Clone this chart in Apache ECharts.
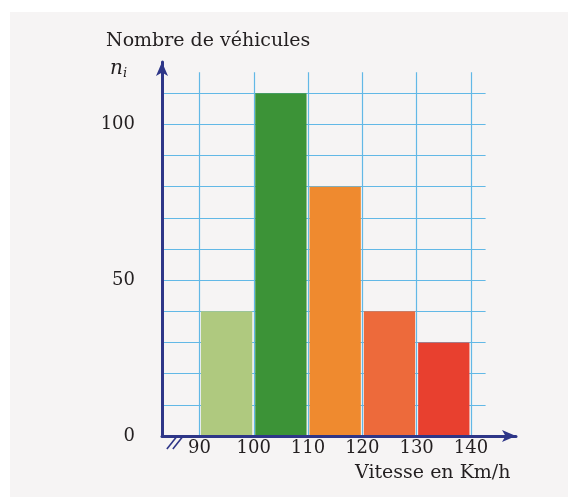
<!DOCTYPE html>
<html>
<head>
<meta charset="utf-8">
<script src="https://cdn.jsdelivr.net/npm/echarts@6/dist/echarts.min.js"></script>
<style>
html, body { margin: 0; padding: 0; background: #f6f4f4; }
#chart { width: 568px; height: 497px; }
</style>
</head>
<body>
<div id="chart"></div>
<script>
// classes de vitesse (km/h) et effectifs
var classStart = [90, 100, 110, 120, 130];
var classEnd = [100, 110, 120, 130, 140];
var counts = [40, 110, 80, 40, 30];
var barColors = ['#afc97f', '#3c9337', '#ef8a2f', '#ed6a3b', '#e8402f'];
var xTicks = [90, 100, 110, 120, 130, 140];
var yTicks = [0, 50, 100];
var yGrid = [10, 20, 30, 40, 50, 60, 70, 80, 90, 100, 110];

var serif = '"DejaVu Serif", "Liberation Serif", serif';
var ink = '#231f20';
var navy = '#2e3688';
var gridBlue = '#62b8e6';

var chart = echarts.init(document.getElementById('chart'));

var barData = [];
for (var i = 0; i < counts.length; i++) {
    barData.push({ value: [classStart[i], classEnd[i], counts[i]], itemStyle: { color: barColors[i] } });
}

// quadrillage
var gridLines = [];
for (var i = 0; i < xTicks.length; i++) {
    gridLines.push([{ coord: [xTicks[i], 0] }, { coord: [xTicks[i], 116.7] }]);
}
for (var i = 0; i < yGrid.length; i++) {
    gridLines.push([{ coord: [83.1, yGrid[i]] }, { coord: [142.7, yGrid[i]] }]);
}

var option = {
    backgroundColor: '#f6f4f4',
    animation: false,
    title: [
        {
            text: 'Nombre de véhicules',
            left: 101, top: 27,
            textStyle: { fontFamily: serif, fontSize: 19, fontWeight: 'normal', color: ink }
        },
        {
            text: '{n|n}{i|i}',
            left: 105, top: 52,
            textStyle: {
                fontWeight: 'normal',
                rich: {
                    n: { fontFamily: serif, fontStyle: 'italic', fontWeight: 'normal', fontSize: 20, color: ink },
                    i: { fontFamily: serif, fontStyle: 'italic', fontWeight: 'normal', fontSize: 13, color: ink, padding: [10, 0, 0, 0] }
                }
            }
        },
        {
            text: 'Vitesse en Km/h',
            left: 350, top: 459,
            textStyle: { fontFamily: serif, fontSize: 19, fontWeight: 'normal', color: ink }
        }
    ],
    grid: { left: 162, right: 52, top: 62, bottom: 61 },
    xAxis: {
        type: 'value',
        min: 83.1,
        max: 148.3,
        z: 10,
        axisLine: { show: true, symbol: ['none', 'arrow'], symbolSize: [9, 14], lineStyle: { color: navy, width: 3 } },
        axisTick: { show: false },
        splitLine: { show: false },
        axisLabel: {
            customValues: xTicks,
            margin: 3,
            fontFamily: serif, fontSize: 18, color: ink
        }
    },
    yAxis: {
        type: 'value',
        min: 0,
        max: 120,
        z: 10,
        axisLine: { show: true, symbol: ['none', 'arrow'], symbolSize: [9, 14], lineStyle: { color: navy, width: 3 } },
        axisTick: { show: false },
        splitLine: { show: false },
        axisLabel: {
            customValues: yTicks,
            margin: 27,
            fontFamily: serif, fontSize: 18, color: ink
        }
    },
    series: [
        {
            type: 'line',
            data: [],
            z: 1,
            silent: true,
            markLine: {
                z: 1,
                silent: true,
                symbol: ['none', 'none'],
                label: { show: false },
                lineStyle: { color: gridBlue, width: 1.2, type: 'solid' },
                data: gridLines
            }
        },
        {
            type: 'custom',
            z: 3,
            data: barData,
            renderItem: function (params, api) {
                var p0 = api.coord([api.value(0), api.value(2)]);
                var p1 = api.coord([api.value(1), 0]);
                return {
                    type: 'rect',
                    shape: { x: p0[0] + 1.5, y: p0[1], width: p1[0] - p0[0] - 3, height: p1[1] - p0[1] },
                    style: api.style()
                };
            }
        }
    ]
};
chart.setOption(option);

// marque de coupure sur l'axe des abscisses
var a = chart.convertToPixel({ gridIndex: 0 }, [84.0, -4.2]);
var b = chart.convertToPixel({ gridIndex: 0 }, [85.9, 0]);
var off = chart.convertToPixel({ gridIndex: 0 }, [85.1, 0])[0] - chart.convertToPixel({ gridIndex: 0 }, [84.0, 0])[0];
chart.setOption({
    graphic: [
        { type: 'rect', left: 0, top: 0, shape: { width: 10, height: 497 }, style: { fill: '#ffffff' }, silent: true },
        { type: 'rect', left: 0, top: 0, shape: { width: 568, height: 12 }, style: { fill: '#ffffff' }, silent: true },
        { type: 'line', shape: { x1: a[0], y1: a[1], x2: b[0], y2: b[1] }, style: { stroke: navy, lineWidth: 1.6 }, z: 20 },
        { type: 'line', shape: { x1: a[0] + off, y1: a[1], x2: b[0] + off, y2: b[1] }, style: { stroke: navy, lineWidth: 1.6 }, z: 20 }
    ]
});
</script>
</body>
</html>
